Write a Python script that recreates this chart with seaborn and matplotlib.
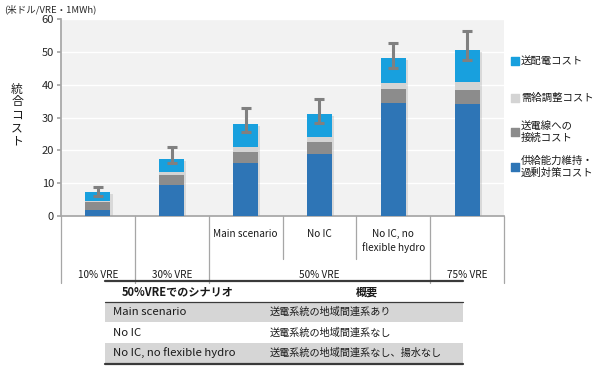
import numpy as np
import pandas as pd
import matplotlib
matplotlib.use("Agg")
import matplotlib.pyplot as plt
import matplotlib.patheffects as pe
import seaborn as sns

# data (US$/VRE-MWh)
scenarios = ["10% VRE", "30% VRE", "Main scenario", "No IC", "No IC, no\nflexible hydro", "75% VRE"]
capacity_cost = [1.8, 9.4, 16.2, 18.8, 34.4, 34.1]      # 供給能力維持・過剰対策コスト
connection_cost = [2.4, 3.0, 3.4, 3.6, 4.4, 4.3]        # 送電線への接続コスト
balancing_cost = [0.5, 0.9, 1.5, 1.6, 1.7, 2.4]         # 需給調整コスト
grid_cost = [2.7, 4.2, 7.0, 7.0, 7.5, 9.8]              # 送配電コスト
err_low = [6.2, 16.0, 25.5, 28.3, 45.2, 47.6]
err_high = [8.9, 21.1, 32.9, 35.6, 52.8, 56.2]

row1_labels = ["", "", "Main scenario", "No IC", "No IC, no\nflexible hydro", ""]
row2_labels = ["10% VRE", "30% VRE", "50% VRE", "75% VRE"]
row2_span = [(0, 0), (1, 1), (2, 4), (5, 5)]
legend_labels = ["送配電コスト", "需給調整コスト", "送電線への\n接続コスト", "供給能力維持・\n過剰対策コスト"]
y_ticks = [0, 10, 20, 30, 40, 50, 60]

table_header = ["50%VREでのシナリオ", "概要"]
table_col1 = ["Main scenario", "No IC", "No IC, no flexible hydro"]
table_col2 = ["送電系統の地域間連系あり", "送電系統の地域間連系なし", "送電系統の地域間連系なし、揚水なし"]

c_dark = "#2e75b6"
c_gray = "#8c8c8c"
c_light = "#d4d4d4"
c_blue = "#18a0de"

sns.set_theme(style="white")
plt.rcParams["font.family"] = ["Noto Sans CJK JP", "DejaVu Sans"]

W, H = 600, 371
fig = plt.figure(figsize=(6, 3.71), dpi=100)

# main chart area in pixels: x 61..504, y 19..216
L, R, T, B = 61, 504, 19, 216
ax = fig.add_axes([L / W, 1 - B / H, (R - L) / W, (B - T) / H])
ax.set_facecolor("#f2f2f2")

df = pd.DataFrame({"scenario": scenarios})
df["c1"] = np.array(capacity_cost)
df["c2"] = df["c1"] + np.array(connection_cost)
df["c3"] = df["c2"] + np.array(balancing_cost)
df["c4"] = df["c3"] + np.array(grid_cost)

# stacked bars: draw cumulative totals from top layer down
shadow = [pe.SimplePatchShadow(offset=(1.5, -1.5), shadow_rgbFace="#a0a0a0", alpha=0.3), pe.Normal()]
for col, color in [("c4", c_blue), ("c3", c_light), ("c2", c_gray), ("c1", c_dark)]:
    sns.barplot(data=df, x="scenario", y=col, color=color, width=0.34, saturation=1,
                linewidth=0, edgecolor="none", ax=ax, zorder=3, order=scenarios)
for p in ax.patches[:len(scenarios)]:
    p.set_path_effects(shadow)

# error bars
xs = np.arange(len(scenarios))
lo = np.array(err_low); hi = np.array(err_high)
ax.errorbar(xs, lo, yerr=[np.zeros_like(lo), hi - lo], fmt="none", ecolor="#808080",
            elinewidth=2.2, capsize=3.5, capthick=2.2, zorder=5)

ax.set_ylim(0, 60)
ax.set_xlim(-0.5, len(scenarios) - 0.5)
ax.set_yticks(y_ticks)
ax.set_yticklabels([str(t) for t in y_ticks], fontsize=8, color="#262626")
ax.set_xticks([])
ax.set_xlabel(""); ax.set_ylabel("")
ax.grid(axis="y", color="white", linewidth=1.0, zorder=0)
ax.set_axisbelow(True)
for s in ["top", "right"]:
    ax.spines[s].set_visible(False)
ax.spines["left"].set_color("#a6a6a6")
ax.spines["bottom"].set_color("#a6a6a6")
ax.tick_params(axis="y", left=True, length=3, color="#a6a6a6", pad=2)

# category table under the axis
tr = ax.get_xaxis_transform()
py = lambda p: (B - p) / (B - T)
for k in range(len(scenarios) + 1):
    bottom = 259 if k in (3, 4) else 283
    ax.plot([k - 0.5, k - 0.5], [0, py(bottom)], transform=tr, color="#a6a6a6", lw=0.9, clip_on=False)
for i, lab in enumerate(row1_labels):
    if lab:
        ax.text(i, py(229), lab, transform=tr, ha="center", va="top", fontsize=7.2,
                color="#1a1a1a", linespacing=1.3)
for lab, (a, b) in zip(row2_labels, row2_span):
    ax.text((a + b) / 2, py(275), lab, transform=tr, ha="center", va="center", fontsize=7.2, color="#1a1a1a")

# overlay in pixel coordinates for free text, legend and the scenario table
ov = fig.add_axes([0, 0, 1, 1])
ov.set_xlim(0, W); ov.set_ylim(H, 0)
ov.axis("off")
ov.set_facecolor("none")

ov.text(4, 9, "(米ドル/VRE・1MWh)", fontsize=6.8, va="center", ha="left", color="#262626")
ov.text(17, 115, "\n".join("統合コスト"), fontsize=8.5, va="center", ha="center", linespacing=1.0, color="#1a1a1a")

# legend
leg_y = [61, 98, 132, 167]
for lab, y, c in zip(legend_labels, leg_y, [c_blue, c_light, c_gray, c_dark]):
    ov.scatter([515], [y], marker="s", s=26, color=c, zorder=3)
    ov.text(521, y, lab, fontsize=7.5, va="center", ha="left", color="#1a1a1a", linespacing=1.25)

# scenario table
tx0, tx1 = 105, 463
ov.fill_between([tx0, tx1], 302, 322, color="#d6d6d6", lw=0)
ov.fill_between([tx0, tx1], 343, 363, color="#d6d6d6", lw=0)
ov.plot([tx0, tx1], [281, 281], color="#3a3a3a", lw=1.6)
ov.plot([tx0, tx1], [302, 302], color="#3a3a3a", lw=0.9)
ov.plot([tx0, tx1], [364, 364], color="#3a3a3a", lw=1.6)
ov.text(178, 292, table_header[0], fontsize=8, fontweight="bold", ha="center", va="center", color="#1a1a1a")
ov.text(367, 292, table_header[1], fontsize=8, fontweight="bold", ha="center", va="center", color="#1a1a1a")
for y, a, b in zip([312, 333, 353], table_col1, table_col2):
    ov.text(113, y, a, fontsize=8.2, ha="left", va="center", color="#1a1a1a")
    ov.text(270, y, b, fontsize=7.3, ha="left", va="center", color="#1a1a1a")

fig.savefig("out.png", dpi=100)
